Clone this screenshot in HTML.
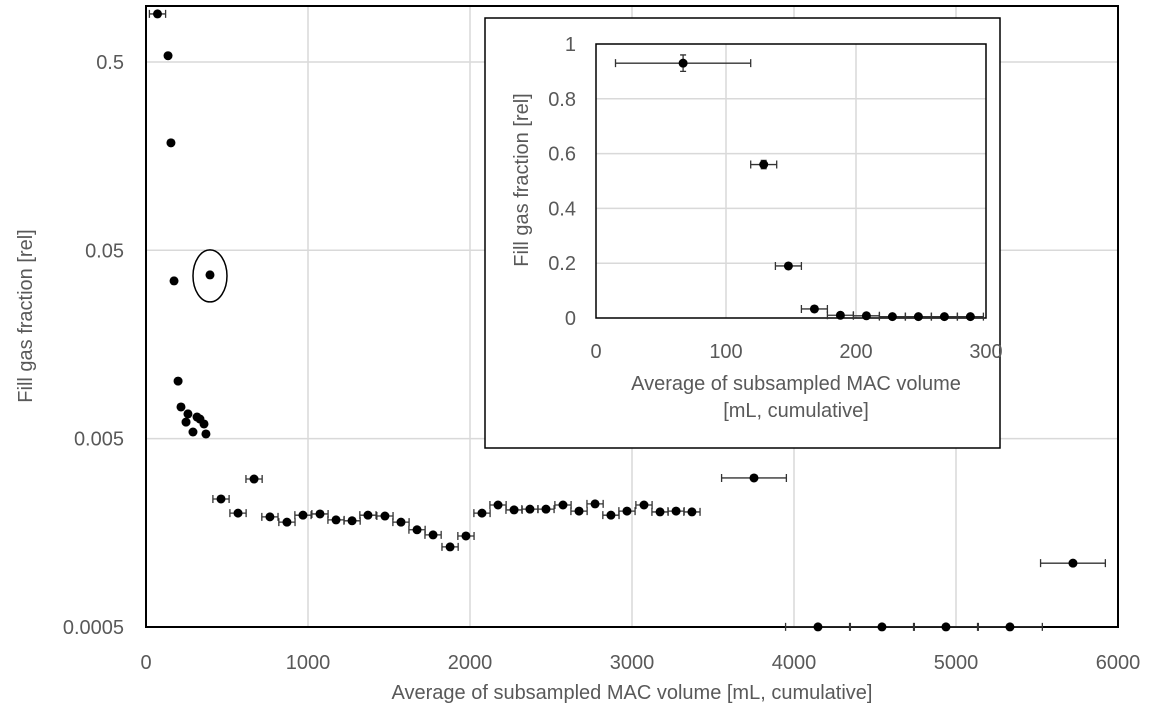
<!DOCTYPE html>
<html><head><meta charset="utf-8">
<style>
html,body{margin:0;padding:0;background:#fff;}
svg{display:block;font-family:"Liberation Sans",Arial,sans-serif;}
</style></head>
<body>
<svg id="chart" width="1158" height="718" viewBox="0 0 1158 718" xmlns="http://www.w3.org/2000/svg"></svg>
<script>
// Main chart data
const mainX = [71,136,154,173,395,198,216,247,259,290,315,333,358,370,463,568,667,765,870,969,1074,1173,1272,1370,1475,1574,1673,1772,1877,1975,2074,2173,2272,2370,2469,2574,2673,2772,2870,2969,3074,3173,3272,3370,3753,4148,4543,4938,5333,5722];
const mainY = [0.90,0.54,0.186,0.0344,0.037,0.0101,0.00736,0.00612,0.00676,0.00542,0.00651,0.00635,0.00598,0.00529,0.00239,0.00201,0.00305,0.00192,0.00180,0.00196,0.00199,0.00185,0.00183,0.00196,0.00194,0.00180,0.00164,0.00154,0.00133,0.00152,0.00201,0.00222,0.00209,0.00211,0.00211,0.00222,0.00206,0.00225,0.00196,0.00206,0.00222,0.00204,0.00206,0.00204,0.00309,0.0005,0.0005,0.0005,0.0005,0.00109];
const mainXErr = [50,10,10,10,10,10,10,10,10,10,10,10,10,10,50,50,50,50,50,50,50,50,50,50,50,50,50,50,50,50,50,50,50,50,50,50,50,50,50,50,50,50,50,50,200,200,200,200,200,200];
const xTicks = [0,1000,2000,3000,4000,5000,6000];
const yTicks = [0.5,0.05,0.005,0.0005];
const yTickLabels = ["0.5","0.05","0.005","0.0005"];
// Inset data
const insetX = [67,129,148,168,188,208,228,248,268,288];
const insetY = [0.93,0.56,0.19,0.033,0.01,0.008,0.005,0.005,0.005,0.005];
const insetXErr = [52,10,10,10,10,10,10,10,10,10];
const insetYErr = [0.03,0.015,0.005,0.003,0.002,0.002,0.001,0.001,0.001,0.001];
const insetXTicks = [0,100,200,300];
const insetYTicks = [0,0.2,0.4,0.6,0.8,1];
const insetYTickLabels = ["0","0.2","0.4","0.6","0.8","1"];

const NS="http://www.w3.org/2000/svg";
const svg=document.getElementById('chart');
function mk(tag,attrs,parent){const e=document.createElementNS(NS,tag);for(const k in attrs)e.setAttribute(k,attrs[k]);(parent||svg).appendChild(e);return e;}

// main axes
const L=146,R=1118,T=6,B=627;
const xs=v=>L+(v/6000)*(R-L);
const ys=v=>62-188.3*Math.log10(v/0.5);

const gMain=mk('g',{});


xTicks.forEach((t,i)=>{
  if(i>0&&i<xTicks.length-1){const g=mk('line',{x1:xs(t),x2:xs(t),y1:T,y2:B,stroke:'#d9d9d9','stroke-width':1.5},gMain);
  }
  const tx=mk('text',{x:xs(t),y:669,'text-anchor':'middle','font-size':20,fill:'#595959'},gMain);
  tx.textContent=t;
  
});
yTicks.forEach((t,i)=>{
  if(i<yTicks.length-1){const g=mk('line',{x1:L,x2:R,y1:ys(t),y2:ys(t),stroke:'#d9d9d9','stroke-width':1.5},gMain);
  }
  const tx=mk('text',{x:124,y:ys(t)+7,'text-anchor':'end','font-size':20,fill:'#595959'},gMain);
  tx.textContent=yTickLabels[i];
  
});
const frame=mk('rect',{x:L,y:T,width:R-L,height:B-T,fill:'none',stroke:'#000','stroke-width':2},gMain);


mainX.forEach((x,i)=>{
  const cx=xs(x),cy=ys(mainY[i]);
  const x1=xs(x-mainXErr[i]),x2=xs(x+mainXErr[i]);
  const eb=mk('path',{d:`M${x1},${cy}H${x2}M${x1},${cy-4}V${cy+4}M${x2},${cy-4}V${cy+4}M${cx},${cy-4}V${cy+4}`,stroke:'#333','stroke-width':1.3,fill:'none'},gMain);
  
  const c=mk('circle',{cx:cx,cy:cy,r:4.5,fill:'#000'},gMain);
  
});
const ell=mk('ellipse',{cx:xs(mainX[4]),cy:ys(mainY[4])+1,rx:17,ry:26,fill:'none',stroke:'#000','stroke-width':1.5},gMain);


const xt=mk('text',{x:632,y:699,'text-anchor':'middle','font-size':20,fill:'#595959'});
xt.textContent='Average of subsampled MAC volume [mL, cumulative]';

const yt=mk('text',{x:0,y:0,'text-anchor':'middle','font-size':20,fill:'#595959',transform:'translate(32,316) rotate(-90)'});
yt.textContent='Fill gas fraction [rel]';


// inset
const gIn=mk('g',{});


const ib=mk('rect',{x:485,y:18,width:515,height:430,fill:'#fff',stroke:'#000','stroke-width':1.5},gIn);

const iL=596,iR=986,iT=44,iB=318;
const ixs=v=>iL+(v/300)*(iR-iL);
const iys=v=>iB-v*(iB-iT);
insetXTicks.forEach(t=>{
  if(t>0&&t<300){const g=mk('line',{x1:ixs(t),x2:ixs(t),y1:iT,y2:iB,stroke:'#d9d9d9','stroke-width':1.5},gIn);
  }
  const tx=mk('text',{x:ixs(t),y:358,'text-anchor':'middle','font-size':20,fill:'#595959'},gIn);
  tx.textContent=t;
});
insetYTicks.forEach((t,i)=>{
  if(t>0&&t<1){const g=mk('line',{x1:iL,x2:iR,y1:iys(t),y2:iys(t),stroke:'#d9d9d9','stroke-width':1.5},gIn);
  }
  const tx=mk('text',{x:576,y:iys(t)+7,'text-anchor':'end','font-size':20,fill:'#595959'},gIn);
  tx.textContent=insetYTickLabels[i];
});
const ifr=mk('rect',{x:iL,y:iT,width:iR-iL,height:iB-iT,fill:'none',stroke:'#000','stroke-width':1.5},gIn);

insetX.forEach((x,i)=>{
  const cx=ixs(x),cy=iys(insetY[i]);
  const x1=ixs(x-insetXErr[i]),x2=ixs(Math.min(300,x+insetXErr[i]));
  const y1=iys(insetY[i]+insetYErr[i]),y2=iys(Math.max(0,insetY[i]-insetYErr[i]));
  const eb=mk('path',{d:`M${x1},${cy}H${x2}M${x1},${cy-4}V${cy+4}M${x2},${cy-4}V${cy+4}M${cx},${y1}V${y2}M${cx-3},${y1}H${cx+3}M${cx-3},${y2}H${cx+3}`,stroke:'#333','stroke-width':1.3,fill:'none'},gIn);
  
  const c=mk('circle',{cx:cx,cy:cy,r:4.5,fill:'#000'},gIn);
  
});
const it1=mk('text',{x:796,y:390,'text-anchor':'middle','font-size':20,fill:'#595959'},gIn);
it1.textContent='Average of subsampled MAC volume';

const it2=mk('text',{x:796,y:417,'text-anchor':'middle','font-size':20,fill:'#595959'},gIn);
it2.textContent='[mL, cumulative]';

const iyt=mk('text',{x:0,y:0,'text-anchor':'middle','font-size':20,fill:'#595959',transform:'translate(528,180) rotate(-90)'},gIn);
iyt.textContent='Fill gas fraction [rel]';

</script>
</body></html>
